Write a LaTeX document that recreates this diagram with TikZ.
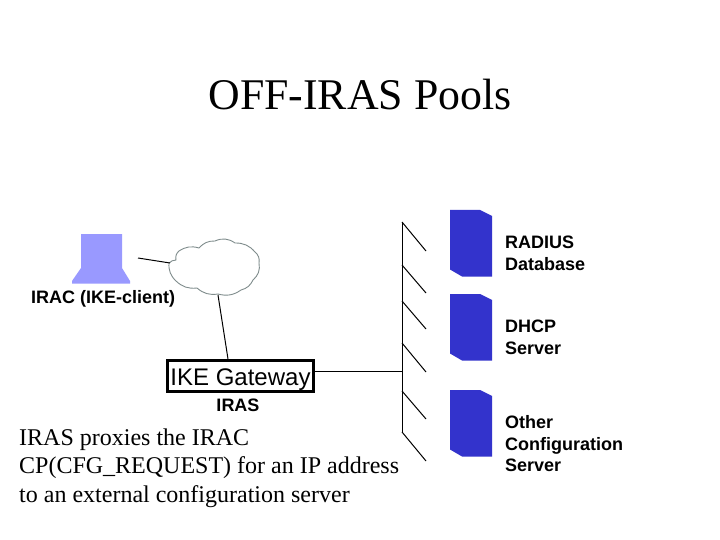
\documentclass[tikz,border=0pt]{standalone}
\usepackage{fontspec}
\setmainfont{Liberation Serif}
\newfontfamily\arialf{Liberation Sans}
\definecolor{srv}{HTML}{3333CC}
\definecolor{lap}{HTML}{9999FF}
\definecolor{cloudline}{HTML}{7F8C8C}
\tikzset{
  lbl/.style={font=\arialf\fontsize{18}{18}\selectfont\bfseries,anchor=base west,inner sep=0pt},
  para/.style={font=\fontsize{24}{24}\selectfont,anchor=base west,inner sep=0pt},
  wire/.style={draw=black,line width=1pt},
  server/.style={fill=srv,draw=none},
}
\begin{document}
\begin{tikzpicture}[x=1pt,y=-1pt]
\useasboundingbox (0,0) rectangle (720,540);
\fill[white] (0,0) rectangle (720,540);
\node[font=\fontsize{43.8}{44}\selectfont,anchor=base,inner sep=0pt] (title) at (360,110) {OFF-IRAS Pools};
% laptop
\fill[lap] (81,234) -- (122,234) -- (122,268) -- (130,281) -- (130,283.5) -- (72,283.5) -- (72,281) -- (81,268) -- cycle;
\coordinate (lapE) at (138,258);
% cloud
\draw[cloudline,fill=white,line width=0.9pt] (169,263)
  to[bend right=25] (176,281) to[bend right=25] (197,288) to[bend right=25] (218,294)
  to[bend right=25] (241,290) to[bend right=25] (253,280) to[bend right=30] (259,263)
  to[bend right=30] (255,252) to[bend right=25] (235,243) to[bend right=30] (215,241)
  to[bend right=25] (199,248) to[bend right=25] (179,251) to[bend right=30] (176,260)
  to[bend right=20] cycle;
\coordinate (cloudW) at (170,263);
\coordinate (cloudS) at (218,295);
% gateway
\node[draw=black,line width=3.5pt,minimum width=146pt,minimum height=31pt,inner sep=0pt] (gateway) at (240.5,376) {};
\node[font=\arialf\fontsize{24}{24}\selectfont,anchor=base,inner sep=0pt] (gwtext) at (240.5,385) {IKE Gateway};
\coordinate (gwN) at (228,359);
\coordinate (gwE) at (314,371);
% spine
\coordinate (s1) at (402,222); \coordinate (t1) at (426,251);
\coordinate (s2) at (402,265); \coordinate (t2) at (426,293);
\coordinate (s3) at (402,301); \coordinate (t3) at (426,329);
\coordinate (s4) at (402,343); \coordinate (t4) at (426,372);
\coordinate (s5) at (402,391); \coordinate (t5) at (426,419);
\coordinate (s6) at (402,432); \coordinate (t6) at (426,461);
\coordinate (sM) at (402,371);
\draw[wire] (s1) -- (s6);
\draw[wire] (s1) -- (t1);
\draw[wire] (s2) -- (t2);
\draw[wire] (s3) -- (t3);
\draw[wire] (s4) -- (t4);
\draw[wire] (s5) -- (t5);
\draw[wire] (s6) -- (t6);
\draw[wire] (lapE) -- (cloudW);
\draw[wire] (cloudS) -- (gwN);
\draw[wire] (gwE) -- (sM);
% servers
\foreach \y in {210,294,390}{
  \fill[server] (450,\y) -- (480,\y) -- (492,\y+6) -- (492,\y+66.5) -- (462,\y+66.5) -- (450,\y+59.5) -- cycle;
}
% labels
\node[lbl] (l1) at (505,248.3) {RADIUS};
\node[lbl] (l2) at (505,270.3) {Database};
\node[lbl] (l3) at (505,332.3) {DHCP};
\node[lbl] (l4) at (505,354.3) {Server};
\node[lbl] (l5) at (505,428.3) {Other};
\node[lbl] (l6) at (505,450.3) {Configuration};
\node[lbl] (l7) at (505,471.3) {Server};
\node[lbl] (l8) at (31,303) {IRAC (IKE-client)};
\node[lbl,anchor=base] (l9) at (238,411) {IRAS};
\node[para] (p1) at (19,445) {IRAS proxies the IRAC};
\node[para] (p2) at (19,473) {CP(CFG\_REQUEST) for an IP address};
\node[para] (p3) at (19,502) {to an external configuration server};
\end{tikzpicture}
\end{document}
